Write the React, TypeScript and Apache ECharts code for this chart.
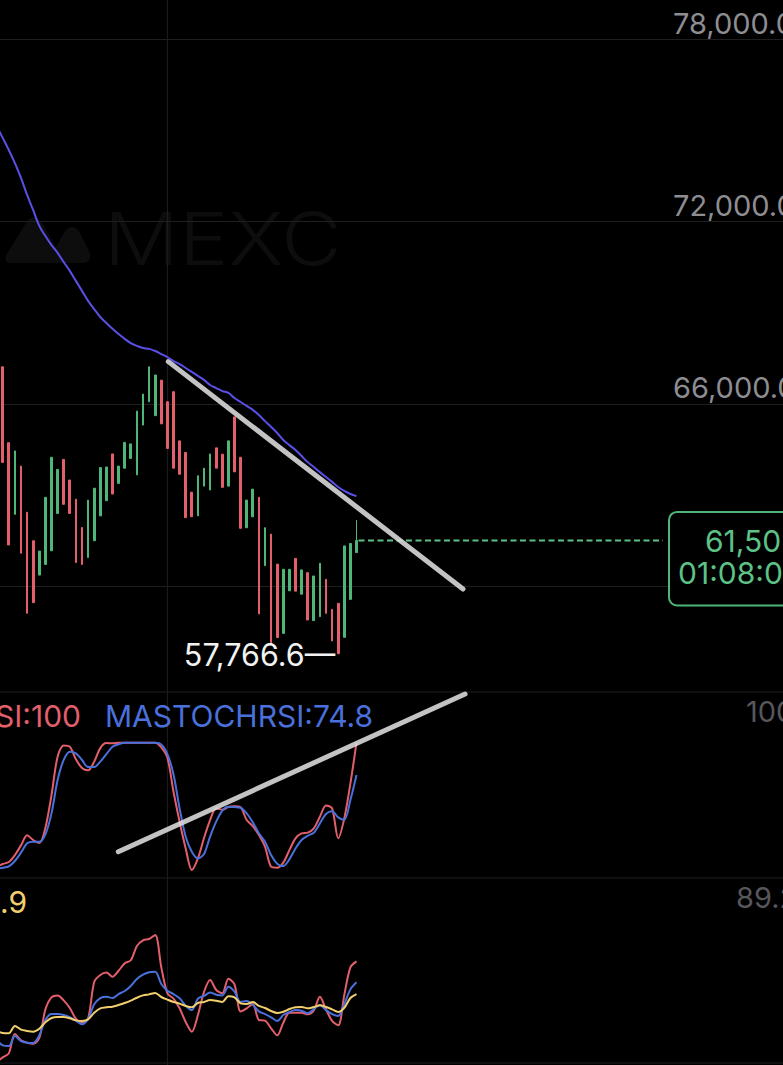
import React, { useEffect, useRef } from "react";
import * as echarts from "echarts";

const W = 783;
const H = 1065;
const FONT = "Inter, 'Noto Sans', sans-serif";

// slot 0 = one slot just left of the screen edge, slots 1..59 = visible candles
const LEAD = 1;
const SLOT_COUNT = 130;

const priceTicks = [60000, 66000, 72000, 78000];

// [open, close, low, high]
const candles: number[][] = [
  [67220, 64070, 64070, 67220],
  [64720, 61350, 61350, 64720],
  [62360, 64450, 62360, 64450],
  [63950, 61080, 61080, 63950],
  [62430, 59100, 59100, 62430],
  [61490, 59450, 59450, 61490],
  [60360, 61150, 60360, 61150],
  [60710, 62920, 60710, 62920],
  [61160, 64240, 61160, 64240],
  [62390, 63840, 62390, 63840],
  [64170, 62690, 62690, 64170],
  [63490, 62390, 62390, 63490],
  [62860, 60770, 60770, 62860],
  [61930, 60710, 60710, 61930],
  [60940, 62830, 60940, 62830],
  [61490, 63220, 61490, 63220],
  [62310, 63900, 62310, 63900],
  [62810, 63920, 62810, 63920],
  [64350, 63030, 63030, 64350],
  [63380, 63950, 63380, 63950],
  [63880, 64730, 63880, 64730],
  [64200, 64680, 64200, 64680],
  [63660, 65760, 63660, 65760],
  [65300, 66320, 65300, 66320],
  [66070, 67220, 66070, 67220],
  [65610, 66950, 65610, 66950],
  [66780, 65340, 65340, 66780],
  [66070, 64530, 64530, 66070],
  [66400, 63880, 63880, 66400],
  [64780, 63680, 63680, 64780],
  [64400, 62250, 62250, 64400],
  [63090, 62280, 62280, 63090],
  [62310, 63630, 62310, 63630],
  [63290, 63880, 63290, 63880],
  [63160, 64350, 63160, 64350],
  [64550, 63880, 63880, 64550],
  [64340, 63250, 63250, 64340],
  [63290, 64780, 63290, 64780],
  [65570, 63760, 63760, 65570],
  [64240, 61900, 61900, 64240],
  [61920, 62830, 61920, 62830],
  [62280, 63190, 62280, 63190],
  [62920, 59080, 59080, 62920],
  [60670, 61920, 60670, 61920],
  [61710, 58130, 58130, 61710],
  [60720, 58300, 58300, 60720],
  [58440, 60550, 58440, 60550],
  [59840, 60550, 59840, 60550],
  [60910, 59830, 59830, 60910],
  [59730, 60530, 59730, 60530],
  [60440, 58880, 58880, 60440],
  [58860, 60330, 58860, 60330],
  [58990, 60750, 58990, 60750],
  [60220, 59100, 59100, 60220],
  [59230, 58190, 58190, 59230],
  [59430, 57770, 57766.6, 59430],
  [58310, 61320, 58310, 61320],
  [59560, 61400, 59560, 61400],
  [61100, 61500, 61095, 62170],
];

// moving average, slots 0..59
const maLine = [
  75150, 74760, 74360, 73930, 73440, 72880, 72380, 71860, 71530, 71230, 70970,
  70670, 70380, 70050, 69720, 69390, 69120, 68860, 68660, 68470, 68300, 68140,
  68000, 67910, 67840, 67810, 67740, 67640, 67540, 67410, 67310, 67180, 67050,
  66920, 66790, 66620, 66520, 66420, 66360, 66190, 66060, 65930, 65800, 65630,
  65430, 65240, 65040, 64810, 64640, 64480, 64280, 64080, 63920, 63750, 63590,
  63430, 63260, 63130, 63030, 62960,
];

const stochK = [
  3, 5.2, 6.8, 12.2, 19.8, 27.6, 24, 21.6, 33.6, 59.1, 89.1, 97.9, 96.9, 87,
  80.2, 78.4, 85.2, 95.8, 99.7, 99.5, 100, 100, 100, 100, 100, 100, 100, 96.4,
  88.3, 61.7, 38.3, 17.4, 0.5, 9.6, 25.5, 39.6, 48.7, 47.7, 49.7, 50.3, 49.5,
  39.6, 34.9, 27.9, 18.8, 3.1, 2.3, 6.3, 16.1, 25.3, 29.2, 29.7, 33.1, 42.2, 51,
  48.7, 25.3, 40.9, 68.2, 100,
];

const stochD = [
  1.5, 2.3, 3.4, 7.6, 14.1, 21.4, 22.7, 22.7, 28.4, 44.8, 70.8, 86.5, 93, 91.7,
  86.5, 81, 81, 85.2, 91.1, 96.9, 98.7, 100, 100, 100, 100, 100, 100, 98.7, 91.1,
  75.3, 48.7, 26.6, 14.8, 9.6, 13, 26.6, 38.3, 46.9, 50, 49.7, 49.2, 44.8, 37.8,
  29.2, 22.7, 12.2, 5.5, 3.6, 8.9, 17.4, 24, 27.3, 29.7, 37, 44.3, 46.4, 41.7,
  39.8, 55.2, 74.8,
];

const oscRed = [
  2, 5.2, 7.9, 21.1, 16.8, 15.2, 14.5, 18.4, 37.9, 46.1, 47.4, 44, 38.8, 31.5,
  28.8, 31.8, 56.5, 61.3, 62.9, 60.1, 64.2, 69.2, 71.3, 81, 84.9, 85.8, 88.6,
  66.5, 48.8, 45.2, 38.6, 29.3, 22.7, 34, 49.7, 57.9, 51.1, 48.8, 58.8, 54.9,
  36.5, 38.6, 41.5, 30.6, 30.2, 25, 20.2, 28.8, 35.6, 35.6, 35.6, 34.5, 37.2,
  46.5, 37.9, 30, 27, 47.7, 66.5, 70.6,
];

const oscBlue = [
  17, 13.4, 12.9, 19.7, 16.3, 15.2, 15, 20.2, 30.6, 34.7, 34.7, 34, 32.5, 30.2,
  27.7, 31.3, 41.3, 45.6, 46.5, 45.6, 48.3, 50.4, 53.8, 58.6, 61.5, 63.1, 63.5,
  55.2, 50.6, 48.3, 45.4, 40.4, 37.4, 45.2, 47, 49.3, 47.9, 47.4, 53.3, 49.9,
  42.9, 43.6, 40.9, 36.5, 34.7, 32.5, 30, 34, 36.1, 37.4, 37, 35.2, 38.1, 40.6,
  37.4, 34.7, 33.4, 41.5, 51.5, 56.3,
];

const oscYellow = [
  23, 21.8, 21.6, 26.6, 24.1, 23.2, 22.7, 24.7, 29.1, 32, 32.7, 32.7, 31.8, 30.4,
  30, 31.1, 35.6, 38.6, 39.3, 39.7, 40.9, 42.2, 43.8, 45.8, 47.4, 48.1, 49, 46.3,
  44.5, 42.9, 41.8, 40.2, 39.3, 42.2, 42.9, 44.3, 43.8, 42.9, 46.8, 46.1, 42,
  41.5, 42.9, 40.2, 38.8, 36.8, 35.4, 36.3, 38.1, 39.3, 39.5, 38.6, 39.5, 40.6,
  39.5, 37.9, 36.1, 39, 45.6, 48.3,
];

const lastPriceShown = 61500;
const lastPriceText = "61,50";
const countdownText = "01:08:0";
const lowPrice = 57766.6;
const lowCandle = 55;
const stochMax = 100;
const oscMax = 89.2;
const oscText = ".9";
const stochLabelK = "SI:" + stochK[stochK.length - 1];
const stochLabelD = "MASTOCHRSI:" + stochD[stochD.length - 1];
const markerSlot = 27; // vertical time gridline (candle index)

// user-drawn trend lines: [candle index (fractional), value]
const trendOnPrice = [
  [27.15, 67390],
  [75.46, 59900],
];
const trendOnStoch = [
  [18.95, 14.8],
  [75.8, 138],
];

const RED = "#e35f6b";
const GREEN = "#4fb67a";
const PURPLE = "#5a4fe6";
const BLUE = "#4a70dc";
const YELLOW = "#f2cf6e";
const GRID = "#1f1f22";
const WATERMARK = "#0d0d0e";

const LOGO_D =
  "M4 52 C-2 52 -1 46 2 41 L20 12 C25 4 31 4 36 12 L50 36 L58 22 C63 14 69 14 74 22 L82 38 C86 46 84 52 77 52 Z";
try {
  echarts.graphic.registerShape("mexcLogo", echarts.graphic.extendPath(LOGO_D, {}) as any);
} catch (e) {
  /* ignore */
}

const GL = -6.45;
const GW = 793;

export default function App() {
  const ref = useRef<HTMLDivElement>(null);

  useEffect(() => {
    document.body.style.margin = "0";
    document.body.style.background = "#000";
    const el = ref.current!;
    const chart = echarts.init(el, undefined, { renderer: "svg", width: W, height: H });
    const slots = Array.from({ length: SLOT_COUNT }, (_, i) => String(i));
    const candleData: any[] = [["-", "-", "-", "-"]];
    candles.forEach((c) => candleData.push(c));

    const xAxisBase = {
      type: "category",
      data: slots,
      boundaryGap: true,
      show: false,
    };
    const fmt = (v: number) =>
      v.toLocaleString("en-US", { minimumFractionDigits: 1, maximumFractionDigits: 1 });

    const axisX = GL + GW;
    const gridBase = { left: GL, width: GW, outerBoundsMode: "none", containLabel: false };
    chart.setOption({
      animation: false,
      backgroundColor: "#000",
      grid: [
        { ...gridBase, top: 39.5, height: 546.5 },
        { ...gridBase, top: 742.7, height: 128 },
        { ...gridBase, top: 934, height: 131 },
      ],
      xAxis: [
        { ...xAxisBase, gridIndex: 0 },
        { ...xAxisBase, gridIndex: 1 },
        { ...xAxisBase, gridIndex: 2 },
      ],
      yAxis: [
        {
          gridIndex: 0,
          type: "value",
          position: "right",
          min: priceTicks[0],
          max: priceTicks[priceTicks.length - 1],
          interval: priceTicks[1] - priceTicks[0],
          axisLine: { show: false },
          axisTick: { show: false },
          splitLine: { show: true, lineStyle: { color: GRID, width: 1 } },
          axisLabel: {
            inside: true,
            align: "left",
            verticalAlign: "bottom",
            margin: axisX - 673,
            color: "#8d8d92",
            fontSize: 29,
            fontFamily: FONT,
            padding: [0, 0, 2, 0],
            // the lowest tick sits under the last-price box
            formatter: (v: number) => (v === priceTicks[0] ? "" : fmt(v)),
          },
        },
        { gridIndex: 1, type: "value", min: 0, max: stochMax, show: false },
        { gridIndex: 2, type: "value", min: 0, max: oscMax, show: false },
      ],
      series: [
        {
          type: "candlestick",
          xAxisIndex: 0,
          yAxisIndex: 0,
          data: candleData,
          barWidth: 2.2,
          clip: false,
          itemStyle: {
            color: GREEN,
            color0: RED,
            borderColor: GREEN,
            borderColor0: RED,
            borderWidth: 1,
          },
        },
        {
          type: "line",
          xAxisIndex: 0,
          yAxisIndex: 0,
          data: maLine,
          showSymbol: false,
          smooth: 0.4,
          clip: false,
          lineStyle: { color: PURPLE, width: 2 },
        },
        {
          type: "line",
          xAxisIndex: 1,
          yAxisIndex: 1,
          data: stochK,
          showSymbol: false,
          smooth: 0.3,
          clip: false,
          lineStyle: { color: RED, width: 2 },
        },
        {
          type: "line",
          xAxisIndex: 1,
          yAxisIndex: 1,
          data: stochD,
          showSymbol: false,
          smooth: 0.3,
          clip: false,
          lineStyle: { color: BLUE, width: 2 },
        },
        {
          type: "line",
          xAxisIndex: 2,
          yAxisIndex: 2,
          data: oscRed,
          showSymbol: false,
          smooth: 0.3,
          clip: false,
          lineStyle: { color: RED, width: 2 },
        },
        {
          type: "line",
          xAxisIndex: 2,
          yAxisIndex: 2,
          data: oscBlue,
          showSymbol: false,
          smooth: 0.3,
          clip: false,
          lineStyle: { color: BLUE, width: 2 },
        },
        {
          type: "line",
          xAxisIndex: 2,
          yAxisIndex: 2,
          data: oscYellow,
          showSymbol: false,
          smooth: 0.3,
          clip: false,
          lineStyle: { color: YELLOW, width: 2 },
        },
      ],
    });

    const p0 = chart.convertToPixel({ gridIndex: 0 }, [LEAD, priceTicks[0]]) as number[];
    const p1 = chart.convertToPixel({ gridIndex: 0 }, [LEAD + 1, priceTicks[0]]) as number[];
    const band = p1[0] - p0[0];
    const xAt = (j: number) => p0[0] + j * band;
    const yPrice = (v: number) =>
      (chart.convertToPixel({ gridIndex: 0 }, [LEAD, v]) as number[])[1];
    const yStoch = (v: number) =>
      (chart.convertToPixel({ gridIndex: 1 }, [LEAD, v]) as number[])[1];

    const lastY = yPrice(lastPriceShown);
    const lowY = yPrice(lowPrice);
    const lastX = xAt(candles.length - 1);
    const textStyle = (extra: any) => ({ fontFamily: FONT, fontSize: 30, ...extra });

    const elements: any[] = [
      // watermark
      {
        type: "mexcLogo",
        x: 6,
        y: 211,
        scaleX: 1,
        scaleY: 1,
        z: -5,
        style: { fill: WATERMARK },
      },
      {
        type: "text",
        x: 104,
        y: 238,
        z: -5,
        scaleX: 1.14,
        style: textStyle({
          text: "MEXC",
          fontSize: 73,
          fontWeight: 300,
          fill: WATERMARK,
          verticalAlign: "middle",
          align: "left",
        }),
      },
      // pane separators
      { type: "line", z: -4, shape: { x1: 0, y1: 692, x2: W, y2: 692 }, style: { stroke: GRID, lineWidth: 1 } },
      { type: "line", z: -4, shape: { x1: 0, y1: 878, x2: W, y2: 878 }, style: { stroke: GRID, lineWidth: 1 } },
      { type: "line", z: -4, shape: { x1: 0, y1: 1063, x2: W, y2: 1063 }, style: { stroke: GRID, lineWidth: 1 } },
      // vertical time gridline
      {
        type: "line",
        z: -4,
        shape: { x1: xAt(markerSlot), y1: 0, x2: xAt(markerSlot), y2: H },
        style: { stroke: GRID, lineWidth: 1 },
      },
      // trend lines
      {
        type: "line",
        z: 50,
        shape: {
          x1: xAt(trendOnPrice[0][0]),
          y1: yPrice(trendOnPrice[0][1]),
          x2: xAt(trendOnPrice[1][0]),
          y2: yPrice(trendOnPrice[1][1]),
        },
        style: { stroke: "rgba(222,222,222,0.88)", lineWidth: 5, lineCap: "round" },
      },
      {
        type: "line",
        z: 50,
        shape: {
          x1: xAt(trendOnStoch[0][0]),
          y1: yStoch(trendOnStoch[0][1]),
          x2: xAt(trendOnStoch[1][0]),
          y2: yStoch(trendOnStoch[1][1]),
        },
        style: { stroke: "rgba(222,222,222,0.88)", lineWidth: 5, lineCap: "round" },
      },
      // last price dashed line
      {
        type: "line",
        z: 20,
        shape: { x1: lastX + 2, y1: lastY, x2: 663, y2: lastY },
        style: { stroke: "#5cc287", lineWidth: 2, lineDash: [6, 3.5] },
      },
      {
        type: "rect",
        z: 30,
        shape: { x: 669, y: lastY - 28.5, width: 150, height: 93.5, r: 8 },
        style: { fill: "#000", stroke: "#4fb67a", lineWidth: 2 },
      },
      {
        type: "text",
        z: 31,
        x: 705,
        y: lastY + 1,
        style: textStyle({
          text: lastPriceText,
          fill: "#5cc287",
          lineHeight: 30,
          verticalAlign: "middle",
          align: "left",
        }),
      },
      {
        type: "text",
        z: 31,
        x: 678,
        y: lastY + 33,
        style: textStyle({
          text: countdownText,
          fill: "#5cc287",
          lineHeight: 30,
          verticalAlign: "middle",
          align: "left",
        }),
      },
      // low marker
      {
        type: "text",
        z: 31,
        x: xAt(lowCandle) - 3,
        y: lowY + 1,
        style: textStyle({
          text: fmt(lowPrice) + "—",
          fill: "#f2f2f2",
          fontSize: 30.5,
          verticalAlign: "middle",
          align: "right",
        }),
      },
      // indicator legends
      {
        type: "text",
        z: 31,
        x: 81,
        y: 716,
        style: textStyle({ text: stochLabelK, fill: RED, verticalAlign: "middle", align: "right" }),
      },
      {
        type: "text",
        z: 31,
        x: 105,
        y: 716,
        style: textStyle({ text: stochLabelD, fill: BLUE, verticalAlign: "middle", align: "left" }),
      },
      {
        type: "text",
        z: 31,
        x: 27,
        y: 902,
        style: textStyle({ text: oscText, fill: YELLOW, verticalAlign: "middle", align: "right" }),
      },
      // pane max labels
      {
        type: "text",
        z: 31,
        x: 746,
        y: 711,
        style: textStyle({ text: String(stochMax), fill: "#56565b", fontSize: 29, verticalAlign: "middle", align: "left" }),
      },
      {
        type: "text",
        z: 31,
        x: 736,
        y: 897,
        style: textStyle({ text: String(oscMax), fill: "#56565b", fontSize: 29, verticalAlign: "middle", align: "left" }),
      },
    ];

    chart.setOption({ graphic: { elements } });

    return () => {
      chart.dispose();
    };
  }, []);

  return (
    <div
      ref={ref}
      style={{ position: "fixed", left: 0, top: 0, width: W, height: H, background: "#000" }}
    />
  );
}
